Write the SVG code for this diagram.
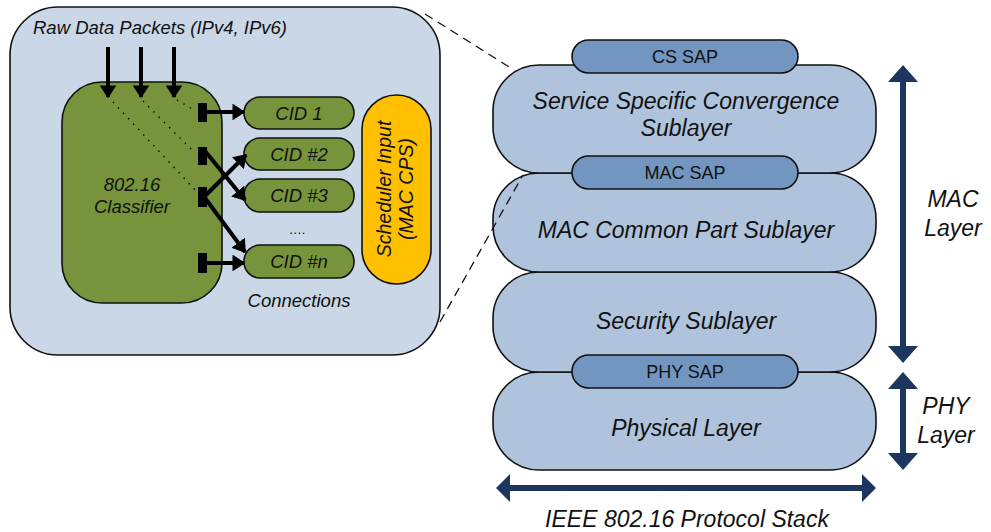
<svg xmlns="http://www.w3.org/2000/svg" width="991" height="532" viewBox="0 0 991 532">
<defs>
<marker id="ah" viewBox="0 0 10 10" refX="9" refY="5" markerWidth="3.2" markerHeight="4.2" orient="auto" markerUnits="strokeWidth" preserveAspectRatio="none">
<path d="M0,0 L10,5 L0,10 z" fill="#000"/>
</marker>
</defs>
<style>
text{font-family:"Liberation Sans",Arial,sans-serif;fill:#111}
.it{font-style:italic}
.ol{stroke:#111;stroke-width:1.6}
.panel{fill:#c9d7e6}
.green{fill:#77933c}
.layer{fill:#b0c3dc}
.sap{fill:#7396c1}
.blk{stroke:#000;stroke-width:4;fill:none;marker-end:url(#ah)}
.port{fill:#000}
.dot{stroke:#000;stroke-width:1.4;stroke-dasharray:1.4 6;fill:none}
.dash{stroke:#111;stroke-width:1.3;stroke-dasharray:9 6;fill:none}
.navy{fill:#1c365f}
.s1{font-size:18.5px}
.s2{font-size:23px}
.s3{font-size:18px}
</style>

<g id="detail-panel">
<rect class="panel ol" x="10" y="7" width="430" height="348" rx="48"/>
<text class="it s1" x="33" y="34">Raw Data Packets (IPv4, IPv6)</text>
</g>

<g id="classifier">
<rect class="green ol" x="62" y="82" width="160" height="221" rx="40"/>
<text class="it s1" x="132" y="191" text-anchor="middle">802.16</text>
<text class="it s1" x="132" y="213" text-anchor="middle">Classifier</text>
</g>

<g id="cid1"><rect class="green ol" x="244" y="97" width="110" height="32" rx="16"/><text class="it s1" x="299" y="119.5" text-anchor="middle">CID 1</text></g>
<g id="cid2"><rect class="green ol" x="244" y="138" width="110" height="32" rx="16"/><text class="it s1" x="299" y="160.5" text-anchor="middle">CID #2</text></g>
<g id="cid3"><rect class="green ol" x="244" y="179" width="110" height="33" rx="16"/><text class="it s1" x="299" y="202" text-anchor="middle">CID #3</text></g>
<g id="cidn"><rect class="green ol" x="244" y="245" width="110" height="33" rx="16"/><text class="it s1" x="299" y="268" text-anchor="middle">CID #n</text></g>
<g id="dots-label"><text x="297" y="234" font-size="13" text-anchor="middle">….</text></g>
<g id="connections-label"><text class="it s1" x="299" y="307" text-anchor="middle">Connections</text></g>

<g id="scheduler">
<rect x="362" y="95" width="69" height="189" rx="34.5" fill="#ffc000" class="ol"/>
<text class="it" font-size="19.5" text-anchor="middle" transform="translate(391,189) rotate(-90)">Scheduler Input</text>
<text class="it" font-size="19.5" text-anchor="middle" transform="translate(413,189) rotate(-90)">(MAC CPS)</text>
</g>

<g id="layer-physical">
<rect class="layer ol" x="493" y="372" width="383" height="98" rx="46"/>
<text class="it s2" x="686" y="436" text-anchor="middle">Physical Layer</text>
</g>
<g id="layer-security">
<rect class="layer ol" x="493" y="272" width="383" height="100" rx="46"/>
<text class="it s2" x="686" y="329" text-anchor="middle">Security Sublayer</text>
</g>
<g id="layer-cps">
<rect class="layer ol" x="493" y="173" width="383" height="99" rx="46"/>
<text class="it s2" x="686" y="238" text-anchor="middle">MAC Common Part Sublayer</text>
</g>
<g id="layer-cs">
<rect class="layer ol" x="493" y="65" width="383" height="108" rx="46"/>
<text class="it s2" x="686" y="109" text-anchor="middle">Service Specific Convergence</text>
<text class="it s2" x="686" y="136" text-anchor="middle">Sublayer</text>
</g>

<g id="cs-sap"><rect class="sap ol" x="572" y="40" width="226" height="33" rx="16.5"/><text class="s3" x="685" y="63" text-anchor="middle">CS SAP</text></g>
<g id="mac-sap"><rect class="sap ol" x="572" y="156" width="226" height="33" rx="16.5"/><text class="s3" x="685" y="179" text-anchor="middle">MAC SAP</text></g>
<g id="phy-sap"><rect class="sap ol" x="572" y="355" width="226" height="33" rx="16.5"/><text class="s3" x="685" y="378" text-anchor="middle">PHY SAP</text></g>

<g id="side-labels">
<text class="it s2" x="953" y="207" text-anchor="middle">MAC</text>
<text class="it s2" x="953" y="236" text-anchor="middle">Layer</text>
<text class="it s2" x="946" y="414" text-anchor="middle">PHY</text>
<text class="it s2" x="946" y="443" text-anchor="middle">Layer</text>
<text class="it s2" x="687" y="527" text-anchor="middle">IEEE 802.16 Protocol Stack</text>
</g>

<g id="connectors">
<line class="blk" x1="108" y1="47" x2="108" y2="97"/>
<line class="blk" x1="141" y1="47" x2="141" y2="97"/>
<line class="blk" x1="174" y1="47" x2="174" y2="97"/>
<line class="dot" x1="113" y1="102" x2="197" y2="192"/>
<line class="dot" x1="143" y1="101" x2="194" y2="152"/>
<line class="dot" x1="177" y1="100" x2="194" y2="110"/>
<rect class="port" x="198" y="103" width="9" height="19"/>
<rect class="port" x="198" y="147" width="9" height="18"/>
<rect class="port" x="198" y="187" width="9" height="20"/>
<rect class="port" x="198" y="253" width="9" height="20"/>
<line class="blk" x1="206" y1="112" x2="244" y2="112"/>
<line class="blk" x1="205" y1="151" x2="245" y2="200"/>
<line class="blk" x1="205" y1="196" x2="246" y2="155"/>
<line class="blk" x1="205" y1="198" x2="245" y2="252"/>
<line class="blk" x1="206" y1="263" x2="244" y2="263"/>
<line class="dash" x1="425" y1="14" x2="514" y2="70"/>
<line class="dash" x1="440" y1="322" x2="523" y2="175"/>
<path class="navy" d="M903,65 L918,82 L906,82 L906,346 L918,346 L903,363 L888,346 L900,346 L900,82 L888,82 z"/>
<path class="navy" d="M903,372 L918,389 L906,389 L906,453 L918,453 L903,470 L888,453 L900,453 L900,389 L888,389 z"/>
<path class="navy" d="M496,488 L510,474 L510,485 L862,485 L862,474 L876,488 L862,502 L862,491 L510,491 L510,502 z"/>
</g>
</svg>
